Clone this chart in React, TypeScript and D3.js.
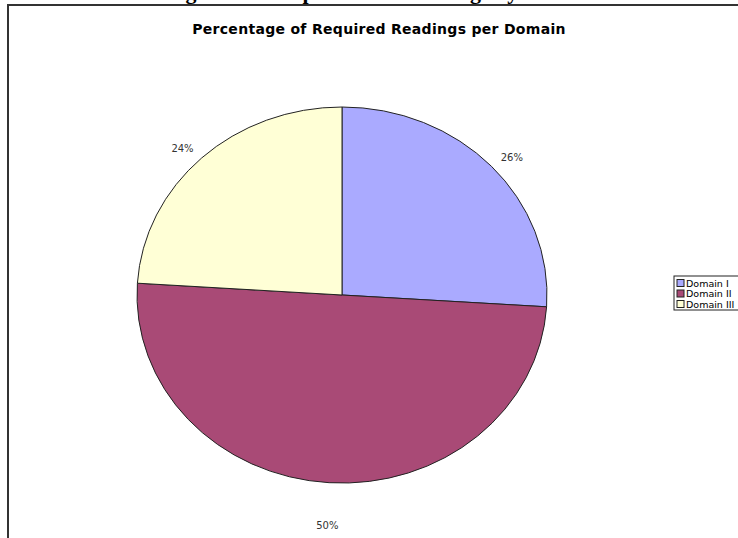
import React, { useEffect, useRef } from 'react';
import * as d3 from 'd3';

const domains = ['Domain I', 'Domain II', 'Domain III'];
const shares = [26, 50, 24];
const colors = ['#AAAAFF', '#A94A76', '#FFFFD6'];

const App: React.FC = () => {
  const ref = useRef<SVGSVGElement>(null);

  useEffect(() => {
    if (!ref.current) return;
    const svg = d3.select(ref.current);
    svg.selectAll('*').remove();

    const W = 738;
    const H = 538;

    // caption of the page above, mostly cut off
    svg
      .append('text')
      .attr('x', 166)
      .attr('y', -1)
      .attr('font-family', '"Liberation Serif", serif')
      .attr('font-weight', 'bold')
      .attr('font-size', 22)
      .attr('fill', '#000')
      .text('Figure 3: Comparison of Readings by Domain');

    // chart frame
    svg
      .append('rect')
      .attr('x', 8)
      .attr('y', 5)
      .attr('width', W)
      .attr('height', H)
      .attr('fill', '#fff')
      .attr('stroke', '#333')
      .attr('stroke-width', 2);

    svg
      .append('text')
      .attr('x', 379)
      .attr('y', 34)
      .attr('text-anchor', 'middle')
      .attr('font-family', '"DejaVu Sans", Verdana, sans-serif')
      .attr('font-weight', 'bold')
      .attr('font-size', 14)
      .attr('letter-spacing', 0.3)
      .attr('fill', '#000')
      .text('Percentage of Required Readings per Domain');

    // pie (Excel draws it slightly squashed)
    const cx = 342;
    const cy = 295;
    const ry = 188;
    const rx = 205;

    const pie = d3.pie<number>().sort(null).value((d) => d);
    const arcs = pie(shares);
    const arc = d3.arc<d3.PieArcDatum<number>>().innerRadius(0).outerRadius(ry);

    const g = svg
      .append('g')
      .attr('transform', `translate(${cx},${cy}) scale(${rx / ry},1)`);

    g.selectAll('path')
      .data(arcs)
      .enter()
      .append('path')
      .attr('d', arc)
      .attr('fill', (_, i) => colors[i])
      .attr('stroke', '#222')
      .attr('stroke-width', 1)
      .attr('vector-effect', 'non-scaling-stroke');

    // outside labels
    svg
      .append('g')
      .selectAll('text')
      .data(arcs)
      .enter()
      .append('text')
      .attr('x', (d) => {
        const a = (d.startAngle + d.endAngle) / 2;
        return cx + (rx + 28) * Math.sin(a);
      })
      .attr('y', (d) => {
        const a = (d.startAngle + d.endAngle) / 2;
        const c = Math.cos(a);
        return cy - (ry + 28) * c + 14 + (c < 0 ? 4 : 0);
      })
      .attr('text-anchor', 'middle')
      .attr('font-family', '"DejaVu Sans", Verdana, sans-serif')
      .attr('font-size', 10)
      .attr('fill', '#333')
      .text((d) => `${d.data}%`);

    // legend
    const lg = svg.append('g').attr('transform', 'translate(674,276)');
    lg.append('rect')
      .attr('width', 80)
      .attr('height', 34)
      .attr('fill', '#fff')
      .attr('stroke', '#222')
      .attr('stroke-width', 1);

    const rows = lg
      .selectAll('g.row')
      .data(domains)
      .enter()
      .append('g')
      .attr('class', 'row')
      .attr('transform', (_, i) => `translate(3,${7 + i * 10.5})`);

    rows
      .append('rect')
      .attr('x', 0)
      .attr('y', -3.5)
      .attr('width', 7)
      .attr('height', 7)
      .attr('fill', (_, i) => colors[i])
      .attr('stroke', '#222')
      .attr('stroke-width', 1);

    rows
      .append('text')
      .attr('x', 9)
      .attr('y', 3.5)
      .attr('font-family', '"DejaVu Sans", Verdana, sans-serif')
      .attr('font-size', 9.5)
      .attr('fill', '#000')
      .text((d) => d);
  }, []);

  return (
    <svg
      ref={ref}
      width={738}
      height={538}
      style={{ position: 'absolute', left: 0, top: 0 }}
    />
  );
};

export default App;
